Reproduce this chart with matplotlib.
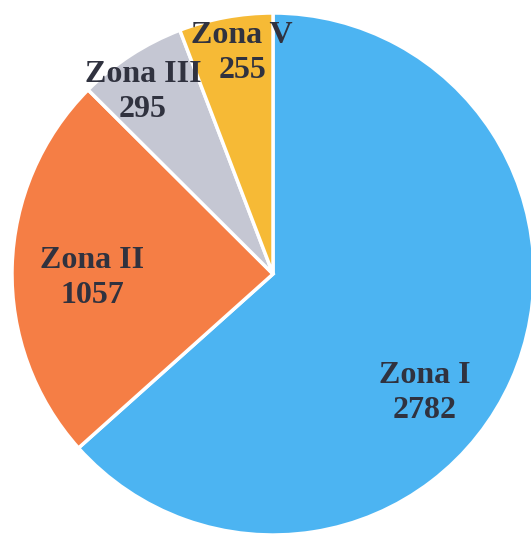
import matplotlib
matplotlib.use("Agg")
import matplotlib.pyplot as plt

# data
zones = ["Zona I", "Zona II", "Zona III", "Zona V"]
counts = [2782, 1057, 295, 255]
colors = ["#4cb4f2", "#f57e45", "#c5c7d3", "#f6ba36"]

# label centres in pixels (x, y from top)
label_pos = [(425, 393), (92, 278), (143, 92), (242, 53)]

W, H = 531, 535
fig = plt.figure(figsize=(W / 100, H / 100), dpi=100)
ax = fig.add_axes([0, 0, 1, 1])

ax.pie(counts, colors=colors, startangle=90, counterclock=False,
       center=(273, H - 274), radius=261,
       wedgeprops=dict(edgecolor="white", linewidth=2.5))

for name, val, (px, py) in zip(zones, counts, label_pos):
    ax.text(px, H - py, f"{name}\n{val}", ha="center", va="center",
            fontsize=23, fontweight="bold", family="Liberation Serif",
            color="#30323f", linespacing=1.28)

ax.set_xlim(0, W)
ax.set_ylim(0, H)
ax.set_aspect("equal")
ax.axis("off")

fig.savefig("out.png", dpi=100)
